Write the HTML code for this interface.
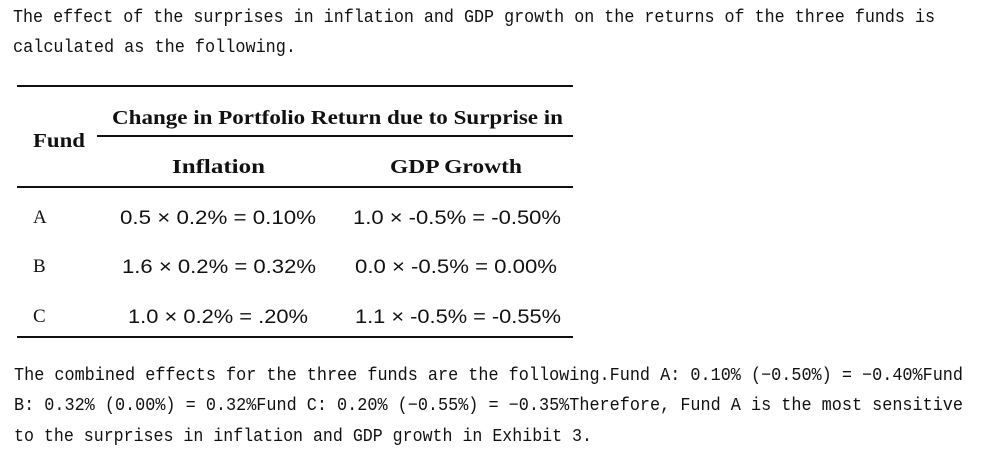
<!DOCTYPE html>
<html><head><meta charset="utf-8"><style>
html,body{margin:0;padding:0;background:#fff;width:1005px;height:454px;overflow:hidden}
svg{display:block}
.m{font-family:"Liberation Mono","Noto Sans CJK SC",monospace;font-size:18px;fill:#111}
.h{font-family:"Liberation Serif",serif;font-weight:bold;font-size:20px;fill:#111}
.v{font-family:"Liberation Sans",sans-serif;font-size:19px;fill:#111}
.f{font-family:"Liberation Serif",serif;font-size:19px;fill:#111}
</style></head><body>
<svg width="1005" height="454">
<g>
<text class="m" x="13" y="22" textLength="922" lengthAdjust="spacingAndGlyphs">The effect of the surprises in inflation and GDP growth on the returns of the three funds is</text>
<text class="m" x="13" y="52" textLength="283" lengthAdjust="spacingAndGlyphs">calculated as the following.</text>
</g>
<g>
<line x1="17" y1="86" x2="573" y2="86" stroke="#111" stroke-width="2"/>
<line x1="97" y1="136" x2="573" y2="136" stroke="#111" stroke-width="2"/>
<line x1="17" y1="187" x2="573" y2="187" stroke="#111" stroke-width="2"/>
<line x1="17" y1="337" x2="573" y2="337" stroke="#111" stroke-width="2"/>
<text class="h" x="112" y="124" textLength="451" lengthAdjust="spacingAndGlyphs">Change in Portfolio Return due to Surprise in</text>
<text class="h" x="33" y="147" textLength="52" lengthAdjust="spacingAndGlyphs">Fund</text>
<text class="h" x="172" y="173" textLength="93" lengthAdjust="spacingAndGlyphs">Inflation</text>
<text class="h" x="390" y="173" textLength="132" lengthAdjust="spacingAndGlyphs">GDP Growth</text>
<text class="f" x="33" y="223">A</text>
<text class="f" x="33" y="272">B</text>
<text class="f" x="33" y="322">C</text>
<text class="v" x="120" y="224" textLength="196" lengthAdjust="spacingAndGlyphs">0.5 × 0.2% = 0.10%</text>
<text class="v" x="353" y="224" textLength="208" lengthAdjust="spacingAndGlyphs">1.0 × -0.5% = -0.50%</text>
<text class="v" x="122" y="273" textLength="194" lengthAdjust="spacingAndGlyphs">1.6 × 0.2% = 0.32%</text>
<text class="v" x="355" y="273" textLength="202" lengthAdjust="spacingAndGlyphs">0.0 × -0.5% = 0.00%</text>
<text class="v" x="128" y="323" textLength="180" lengthAdjust="spacingAndGlyphs">1.0 × 0.2% = .20%</text>
<text class="v" x="355" y="323" textLength="206" lengthAdjust="spacingAndGlyphs">1.1 × -0.5% = -0.55%</text>
</g>
<g>
<text class="m" x="14" y="380" textLength="949" lengthAdjust="spacingAndGlyphs">The combined effects for the three funds are the following.Fund A: 0.10% (−0.50%) = −0.40%Fund</text>
<text class="m" x="14" y="410" textLength="949" lengthAdjust="spacingAndGlyphs">B: 0.32% (0.00%) = 0.32%Fund C: 0.20% (−0.55%) = −0.35%Therefore, Fund A is the most sensitive</text>
<text class="m" x="14" y="441" textLength="578" lengthAdjust="spacingAndGlyphs">to the surprises in inflation and GDP growth in Exhibit 3.</text>
</g>
</svg>
</body></html>
